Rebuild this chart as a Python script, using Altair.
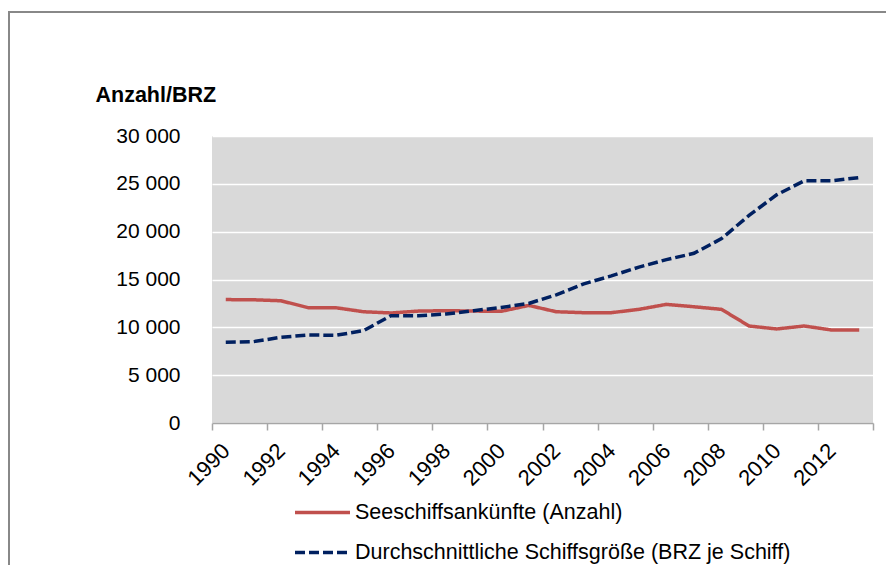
import altair as alt
import pandas as pd

years = list(range(1990, 2014))
arrivals = [12900, 12880, 12780, 12050, 12050, 11630, 11500, 11700, 11740, 11700,
            11670, 12290, 11630, 11530, 11530, 11880, 12400, 12150, 11880, 10140,
            9830, 10140, 9720, 9720]
avg_size = [8440, 8500, 8960, 9200, 9170, 9650, 11220, 11220, 11390, 11740,
            12080, 12500, 13400, 14550, 15380, 16290, 17080, 17740, 19270, 21700,
            23850, 25310, 25310, 25660]
series_names = ["Seeschiffsankünfte (Anzahl)",
                "Durchschnittliche Schiffsgröße (BRZ je Schiff)"]
series_colors = ["#c0504d", "#002060"]
series_dash = [[1, 0], [10, 4]]
tick_years = list(range(1990, 2015, 2))
y_ticks = list(range(0, 30001, 5000))

rows = []
for yr, a, s in zip(years, arrivals, avg_size):
    rows.append({"pos": yr + 0.5, "Jahr": yr, "Serie": series_names[0], "Wert": a})
    rows.append({"pos": yr + 0.5, "Jahr": yr, "Serie": series_names[1], "Wert": s})
df = pd.DataFrame(rows)

FONT = "Liberation Sans"
W, H = 661, 287
PAD_L, PAD_T, PAD_R, PAD_B = 204, 128, 13, 142
half_cat = W / 24 / 2

legend_cfg = dict(
    title=None, orient="none", legendX=81, legendY=347, direction="vertical",
    symbolType="stroke", symbolSize=3025, symbolStrokeWidth=3.5,
    labelFontSize=21.5, labelFont=FONT, labelColor="#000000", labelLimit=700,
    rowPadding=-19, labelOffset=3,
)

lines = alt.Chart(df).mark_line(strokeWidth=3.5, strokeCap="butt").encode(
    x=alt.X("pos:Q",
            scale=alt.Scale(domain=[1990, 2014], nice=False, zero=False),
            axis=alt.Axis(values=tick_years,
                          labelExpr="datum.value >= 2014 ? '' : toString(datum.value)",
                          labelAngle=-45, labelAlign="right", labelBaseline="middle",
                          labelOffset=half_cat, labelPadding=17,
                          tickSize=7, tickColor="#a6a6a6", tickWidth=1.5,
                          domainColor="#a6a6a6", domainWidth=1.5,
                          grid=False, title=None,
                          labelFontSize=22, labelColor="#000000", labelFont=FONT,
                          labelOverlap=False, labelFlush=False)),
    y=alt.Y("Wert:Q",
            scale=alt.Scale(domain=[0, 30000], nice=False),
            axis=alt.Axis(values=y_ticks,
                          labelExpr="replace(format(datum.value, ','), ',', ' ')",
                          title="Anzahl/BRZ", titleAngle=0, titleX=-117, titleY=-35,
                          titleAlign="left", titleBaseline="alphabetic",
                          titleFontSize=21.5, titleFontWeight="bold", titleFont=FONT,
                          titleColor="#000000",
                          grid=True, gridColor="#ffffff", gridWidth=1.5,
                          domain=False, ticks=False, labelPadding=32,
                          labelFontSize=21, labelColor="#000000", labelFont=FONT)),
    color=alt.Color("Serie:N",
                    scale=alt.Scale(domain=series_names, range=series_colors),
                    legend=alt.Legend(**legend_cfg)),
    strokeDash=alt.StrokeDash("Serie:N",
                              scale=alt.Scale(domain=series_names, range=series_dash),
                              legend=alt.Legend(**legend_cfg)),
)

frame_df = pd.DataFrame({"k": [0]})
frame_top = alt.Chart(frame_df).mark_rule(color="#888888", strokeWidth=2).encode(
    x=alt.value(-PAD_L), x2=alt.value(W + PAD_R), y=alt.value(-124))
frame_left = alt.Chart(frame_df).mark_rule(color="#888888", strokeWidth=2).encode(
    x=alt.value(-PAD_L + 1), y=alt.value(-124), y2=alt.value(H + PAD_B))

chart = alt.layer(lines, frame_top, frame_left).properties(
    width=W, height=H,
    background="#ffffff",
    autosize=alt.AutoSizeParams(type="none"),
    padding={"left": PAD_L, "top": PAD_T, "right": PAD_R, "bottom": PAD_B},
).configure_view(fill="#d9d9d9", stroke=None)

chart.save("out.html", embed_options={"renderer": "svg", "actions": False})
